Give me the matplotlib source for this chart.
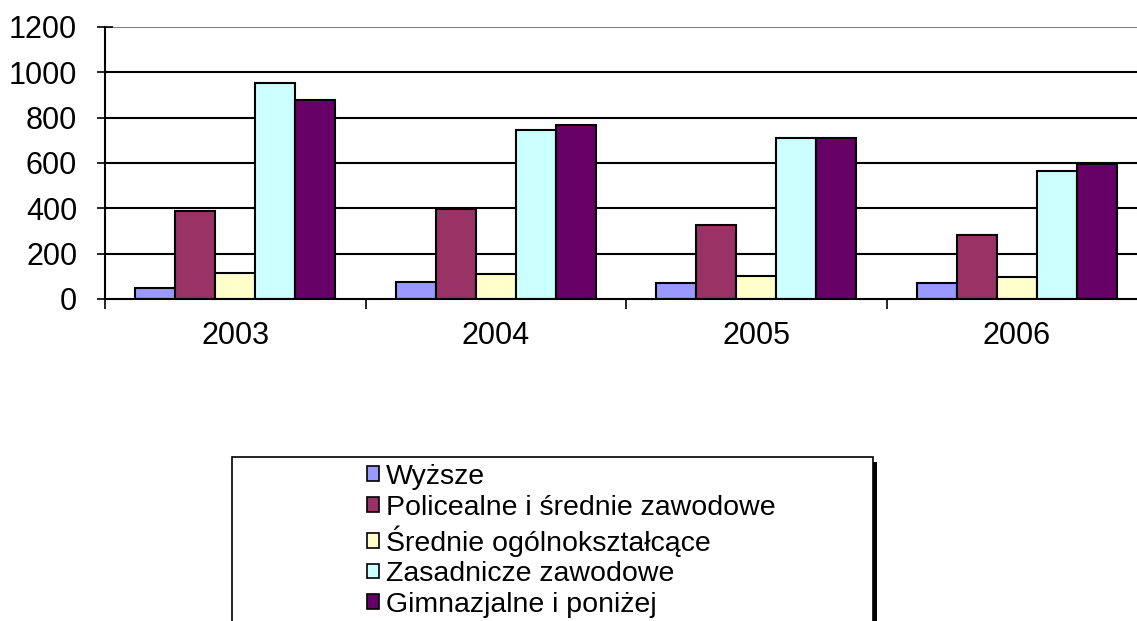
import matplotlib
matplotlib.use("Agg")
import matplotlib.pyplot as plt
import numpy as np
from matplotlib.patches import Rectangle, Patch

plt.rcParams['font.family'] = ['Liberation Sans', 'DejaVu Sans']

years = ["2003", "2004", "2005", "2006"]
series_names = ["Wyższe", "Policealne i średnie zawodowe", "Średnie ogólnokształcące",
                "Zasadnicze zawodowe", "Gimnazjalne i poniżej"]
wyzsze = [50, 77, 70, 70]
policealne = [387, 397, 328, 282]
srednie = [114, 111, 103, 97]
zasadnicze = [955, 747, 711, 564]
gimnazjalne = [877, 767, 712, 594]
values = [wyzsze, policealne, srednie, zasadnicze, gimnazjalne]
colors = ["#9999FF", "#993366", "#FFFFCC", "#CCFFFF", "#660066"]
yticks = [0, 200, 400, 600, 800, 1000, 1200]

W, H = 1137, 621
fig = plt.figure(figsize=(W / 100, H / 100), dpi=100)
left, right, top, bottom = 105, 1147, 27, 299
ax = fig.add_axes([left / W, 1 - bottom / H, (right - left) / W, (bottom - top) / H])

n = len(years)
bw = 0.1535
x = np.arange(n)
for i, (vals, c) in enumerate(zip(values, colors)):
    ax.bar(x + (i - 2) * bw, vals, width=bw, color=c, edgecolor="black", linewidth=1.5, zorder=3)

ax.set_xlim(-0.5, n - 0.5)
ax.set_ylim(0, 1200)
ax.set_yticks(yticks)
ax.set_yticklabels([str(v) for v in yticks], fontsize=22)
for v in yticks[1:-1]:
    ax.axhline(v, color="black", linewidth=1.5, zorder=1)
ax.axhline(1200, color="#808080", linewidth=1.5, zorder=1)

ax.set_xticks(np.arange(n + 1) - 0.5, minor=False)
ax.set_xticklabels([""] * (n + 1))
ax.set_xticks(x, minor=True)
ax.set_xticklabels(years, minor=True, fontsize=22)
ax.tick_params(axis='x', which='minor', length=0, pad=16)
ax.tick_params(axis='x', which='major', direction='out', length=7, width=1.2)
ax.tick_params(axis='y', direction='inout', length=12, width=1.2, pad=14)

for s in ["top", "right"]:
    ax.spines[s].set_visible(False)
ax.spines["left"].set_linewidth(1.5)
ax.spines["bottom"].set_linewidth(1.5)
ax.spines["bottom"].set_zorder(4)

# legend box with shadow
bx0, bx1, by0 = 232, 873, 457
fig.patches.append(Rectangle((bx0 / W, -0.05), (bx1 - bx0) / W, (H - by0) / H + 0.05,
                             transform=fig.transFigure, facecolor="white", edgecolor="black",
                             linewidth=1.2, zorder=1))
fig.patches.append(Rectangle((bx1 / W, -0.05), 4 / W, (H - by0 - 5) / H + 0.05,
                             transform=fig.transFigure, facecolor="black", edgecolor="none", zorder=1))

handles = [Patch(facecolor=c, edgecolor="black", linewidth=1.2) for c in colors]
leg = fig.legend(handles, series_names, loc="upper left",
                 bbox_to_anchor=(367 / W, 1 - 464 / H), frameon=False, fontsize=20.5,
                 handlelength=0.42, handleheight=0.42, handletextpad=0.25,
                 labelspacing=0.16, borderaxespad=0, borderpad=0)

fig.savefig("out.png", dpi=100)
